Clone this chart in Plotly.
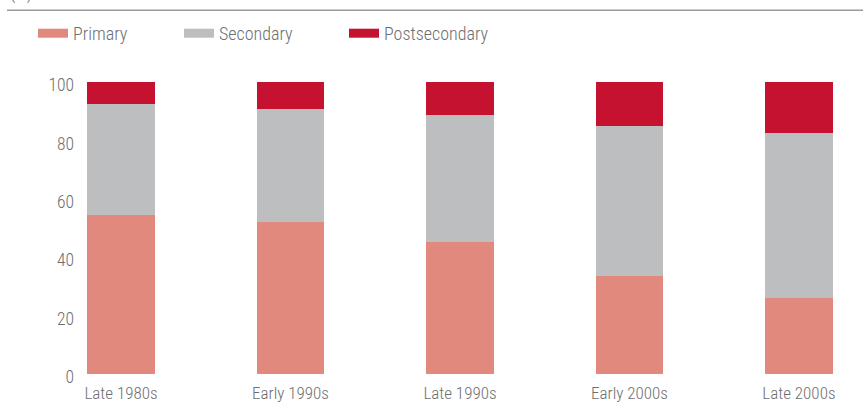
import plotly.graph_objects as go

categories = ["Late 1980s", "Early 1990s", "Late 1990s", "Early 2000s", "Late 2000s"]
primary = [54.3, 52.1, 45.2, 33.4, 26.2]
secondary = [38.0, 38.7, 43.6, 51.7, 56.2]
postsecondary = [7.7, 9.2, 11.2, 14.9, 17.6]
series_names = ["Primary", "Secondary", "Postsecondary"]
colors = ["#E0897C", "#BDBEC0", "#C41230"]
y_ticks = [0, 20, 40, 60, 80, 100]

FONT = "Roboto Condensed, DejaVu Sans Condensed, sans-serif"
TXT = "#6D6E71"

W, H = 863, 411
L, R, T, B = 75, 0, 82, 37
PW = W - L - R
PH = H - T - B

fig = go.Figure()
for name, vals, col in zip(series_names, [primary, secondary, postsecondary], colors):
    fig.add_trace(go.Bar(x=categories, y=vals, name=name, marker_color=col,
                         marker_line_width=0, width=0.4, showlegend=False))

legend_px = [39, 185, 350]
for i, (name, col) in enumerate(zip(series_names, colors)):
    lg = "legend" if i == 0 else f"legend{i+1}"
    fig.add_trace(go.Scatter(x=[None], y=[None], mode="lines", name=name,
                             line=dict(color=col, width=9), legend=lg, showlegend=True))

def px_x(p):
    return (p - L) / PW

def px_y(p):
    return (H - B - p) / PH

leg_common = dict(orientation="h", xanchor="left", yanchor="middle", bgcolor="rgba(0,0,0,0)",
                  font=dict(family=FONT, size=18, color=TXT, weight=300), itemwidth=30, tracegroupgap=0)
layout_legends = {}
for i, p in enumerate(legend_px):
    key = "legend" if i == 0 else f"legend{i+1}"
    layout_legends[key] = dict(x=px_x(p - 5 - 1), y=px_y(33.5), **leg_common)

fig.update_layout(
    width=W, height=H,
    margin=dict(l=L, r=R, t=T, b=B, autoexpand=False),
    paper_bgcolor="white", plot_bgcolor="white",
    barmode="stack",
    font=dict(family=FONT, size=18, color=TXT, weight=300),
    xaxis=dict(range=[-0.2714, 4.378], showgrid=False, showline=False, zeroline=False,
               ticks="", ticklabelstandoff=7,
               tickfont=dict(family=FONT, size=17, color=TXT, weight=300)),
    yaxis=dict(range=[0, 100], tickvals=y_ticks, showgrid=False, showline=False, zeroline=False,
               ticks="", ticklabelshift=3,
               tickfont=dict(family=FONT, size=17.5, color=TXT, weight=300)),
    **layout_legends,
)

fig.add_shape(type="line", xref="paper", yref="paper", x0=px_x(7), x1=1.0,
              y0=px_y(10.3), y1=px_y(10.3), line=dict(color="#9A9A9A", width=1.5))
fig.add_annotation(text="(%)", xref="paper", yref="paper", x=px_x(8), y=px_y(-7),
                   xanchor="left", yanchor="middle", showarrow=False,
                   font=dict(family=FONT, size=18, color=TXT, weight=300))

fig.write_html("out.html", config={"displayModeBar": False},
               post_script="document.body.style.margin='0px';")
